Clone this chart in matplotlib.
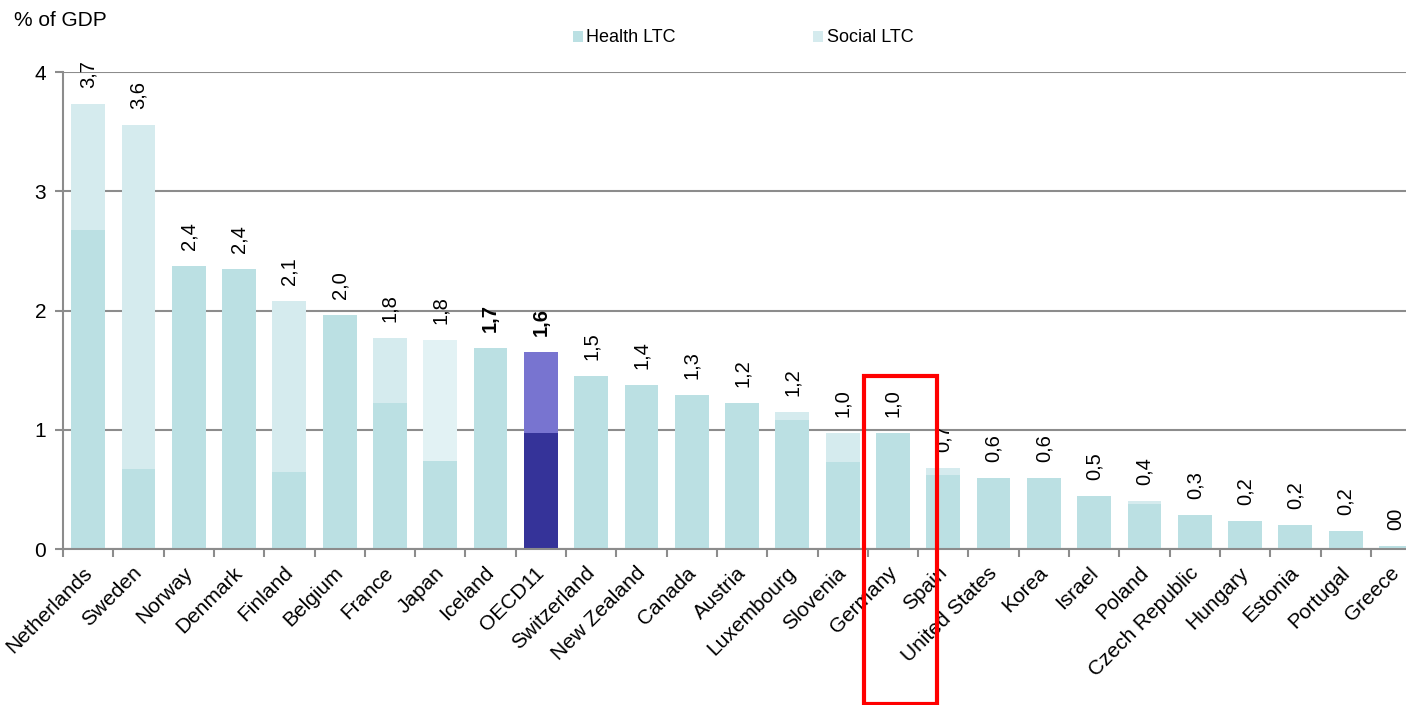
import numpy as np
import matplotlib
matplotlib.use("Agg")
import matplotlib.pyplot as plt
from matplotlib.patches import Rectangle
from matplotlib.transforms import ScaledTranslation

plt.rcParams['font.family'] = ['Liberation Sans', 'DejaVu Sans']

# Data (% of GDP)
countries = ["Netherlands", "Sweden", "Norway", "Denmark", "Finland", "Belgium", "France",
             "Japan", "Iceland", "OECD11", "Switzerland", "New Zealand", "Canada", "Austria",
             "Luxembourg", "Slovenia", "Germany", "Spain", "United States", "Korea", "Israel",
             "Poland", "Czech Republic", "Hungary", "Estonia", "Portugal", "Greece"]
health_ltc = [2.68, 0.67, 2.37, 2.35, 0.65, 1.96, 1.23, 0.74, 1.69, 0.975, 1.45, 1.38, 1.29,
              1.23, 1.08, 0.73, 0.975, 0.62, 0.60, 0.595, 0.45, 0.38, 0.29, 0.24, 0.20, 0.15, 0.03]
social_ltc = [1.05, 2.89, 0.0, 0.0, 1.43, 0.0, 0.54, 1.01, 0.0, 0.675, 0.0, 0.0, 0.0,
              0.0, 0.07, 0.245, 0.0, 0.06, 0.0, 0.0, 0.0, 0.025, 0.0, 0.0, 0.0, 0.0, 0.0]
value_labels = ["3,7", "3,6", "2,4", "2,4", "2,1", "2,0", "1,8", "1,8", "1,7", "1,6", "1,5",
                "1,4", "1,3", "1,2", "1,2", "1,0", "1,0", "0,7", "0,6", "0,6", "0,5", "0,4",
                "0,3", "0,2", "0,2", "0,2", "00"]
bold_labels = ["Iceland", "OECD11"]

HEALTH = "#bbe0e3"
SOCIAL = "#d5ebee"
health_colors = [HEALTH] * len(countries)
social_colors = [SOCIAL] * len(countries)
health_colors[countries.index("OECD11")] = "#353399"
social_colors[countries.index("OECD11")] = "#7874d0"
social_colors[countries.index("Japan")] = "#e2f2f4"

W, H = 1406, 705
fig = plt.figure(figsize=(W / 100, H / 100), dpi=100)
# axes slightly wider than the figure: the last bar is cut at the right edge
ax = fig.add_axes([63 / W, (H - 549.3) / H, (27 * 50.3) / W, (549.3 - 72) / H])

x = np.arange(len(countries))
ax.bar(x, health_ltc, width=0.67, color=health_colors, label="Health LTC", zorder=2)
ax.bar(x, social_ltc, width=0.67, bottom=health_ltc, color=social_colors,
       label="Social LTC", zorder=2)

totals = np.array(health_ltc) + np.array(social_ltc)
for i, (t, lab) in enumerate(zip(totals, value_labels)):
    ax.annotate(lab, (x[i], t), xytext=(0, 16), textcoords="offset pixels",
                rotation=90, ha="center", va="bottom", fontsize=14.5,
                fontweight="bold" if countries[i] in bold_labels else "normal",
                zorder=3, annotation_clip=False)

ax.set_xlim(-0.5, len(countries) - 0.5)
ax.set_ylim(0, 4)
ax.set_yticks([0, 1, 2, 3, 4])
ax.yaxis.grid(True, color="#8c8c8c", linewidth=1.5, zorder=1)
ax.set_axisbelow(True)

# boundary ticks on x, labels at category centres
ax.set_xticks(np.arange(-0.5, len(countries), 1.0))
ax.set_xticklabels([])
ax.set_xticks(x, minor=True)
ax.set_xticklabels(countries, minor=True, rotation=45, ha="right", va="top",
                   rotation_mode="anchor", fontsize=15)
ax.tick_params(axis="x", which="minor", length=0, pad=10)
ax.tick_params(axis="x", which="major", length=6, width=1.5, color="#8c8c8c")
ax.tick_params(axis="y", length=6, width=1.5, color="#8c8c8c", labelsize=15, pad=6)
shift = ScaledTranslation(-6 / 100, 0, fig.dpi_scale_trans)
for lbl in ax.get_xticklabels(minor=True):
    lbl.set_transform(lbl.get_transform() + shift)

for s in ["top", "right"]:
    ax.spines[s].set_visible(False)
for s in ["left", "bottom"]:
    ax.spines[s].set_color("#8c8c8c")
    ax.spines[s].set_linewidth(1.5)

fig.text(14 / W, 1 - 20 / H, "% of GDP", ha="left", va="center", fontsize=15)

fig.legend(loc="center", bbox_to_anchor=(743 / W, 1 - 38 / H), ncol=2, frameon=False,
           fontsize=13, handlelength=0.55, handleheight=0.55, handletextpad=0.2,
           columnspacing=7.6)

# red highlight box around Germany
fig.add_artist(Rectangle((864 / W, 1 - 704 / H), (937 - 864) / W, (704 - 376) / H,
                         transform=fig.transFigure, fill=False, edgecolor="#ff0000",
                         linewidth=3, zorder=10))

fig.savefig("out.png", dpi=100)
